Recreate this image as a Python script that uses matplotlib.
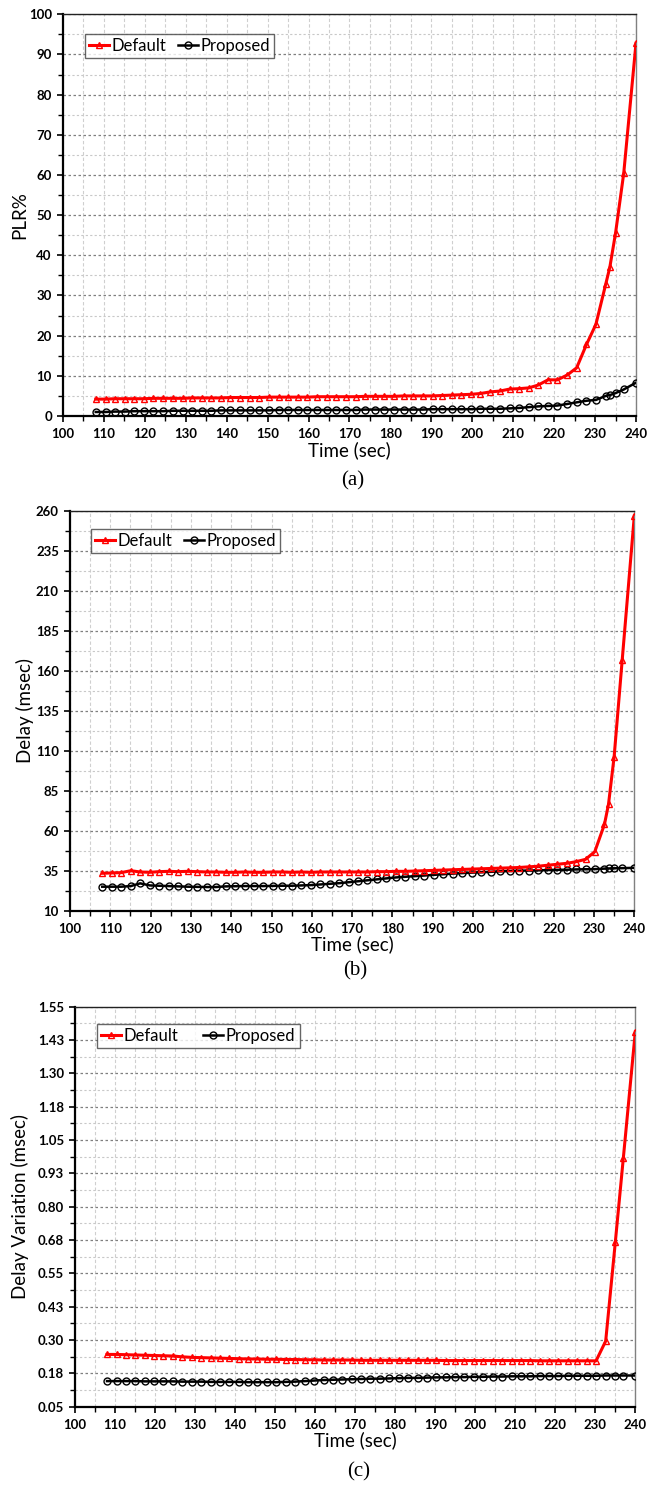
import numpy as np
import matplotlib
matplotlib.use('Agg')
import matplotlib.pyplot as plt
from matplotlib.ticker import MultipleLocator, FixedLocator, FixedFormatter

# sample times (sec)
t = [108.0, 110.4, 112.7, 115.1, 117.4, 119.8, 122.1, 124.5, 126.8, 129.2,
     131.5, 133.9, 136.2, 138.6, 140.9, 143.3, 145.6, 148.0, 150.3, 152.7,
     155.0, 157.4, 159.7, 162.1, 164.4, 166.8, 169.1, 171.5, 173.8, 176.2,
     178.5, 180.9, 183.2, 185.6, 187.9, 190.3, 192.6, 195.0, 197.3, 199.7,
     202.0, 204.4, 206.7, 209.1, 211.4, 213.8, 216.1, 218.5, 220.8, 223.2,
     225.5, 227.9, 230.2, 232.6, 233.6, 235.0, 237.0, 240.0]
# panel (c) has no sample at 233.6
t_c = t[:54] + t[55:]

plr_default = [4.2, 4.2, 4.3, 4.3, 4.3, 4.3, 4.4, 4.4, 4.4, 4.4,
               4.5, 4.5, 4.5, 4.5, 4.6, 4.6, 4.6, 4.6, 4.7, 4.7,
               4.7, 4.7, 4.7, 4.8, 4.8, 4.8, 4.8, 4.8, 4.9, 4.9,
               4.9, 4.9, 5.0, 5.0, 5.0, 5.0, 5.1, 5.2, 5.3, 5.4,
               5.6, 6.0, 6.2, 6.7, 6.8, 7.0, 7.7, 9.0, 9.0, 10.2,
               12.0, 17.8, 22.8, 32.8, 37.0, 45.5, 60.4, 92.8]
plr_proposed = [1.0, 1.0, 1.1, 1.1, 1.2, 1.2, 1.2, 1.2, 1.3, 1.3,
                1.3, 1.3, 1.3, 1.4, 1.4, 1.4, 1.4, 1.4, 1.4, 1.5,
                1.5, 1.5, 1.5, 1.5, 1.5, 1.5, 1.5, 1.5, 1.6, 1.6,
                1.6, 1.6, 1.6, 1.6, 1.6, 1.7, 1.7, 1.7, 1.7, 1.7,
                1.8, 1.8, 1.8, 1.9, 2.0, 2.2, 2.4, 2.5, 2.6, 3.0,
                3.4, 3.8, 4.0, 5.0, 5.2, 5.7, 6.6, 8.3]

delay_default = [33.4, 33.6, 33.8, 35.0, 34.2, 34.0, 34.4, 34.6, 34.4, 34.6,
                 34.4, 34.2, 34.2, 34.0, 34.0, 34.2, 34.0, 34.0, 34.2, 34.2,
                 34.0, 34.2, 34.0, 34.2, 34.2, 34.2, 34.2, 34.2, 34.2, 34.4,
                 34.4, 34.6, 34.6, 34.8, 35.0, 35.2, 35.4, 35.6, 35.8, 36.0,
                 36.2, 36.4, 36.6, 36.8, 37.0, 37.4, 37.8, 38.4, 39.0, 39.6,
                 40.6, 42.1, 46.9, 64.0, 76.5, 106.3, 166.7, 256.7]
delay_proposed = [25.0, 25.0, 25.0, 25.4, 27.1, 25.8, 25.6, 25.4, 25.2, 25.0,
                  24.9, 24.8, 24.8, 25.2, 25.3, 25.4, 25.4, 25.4, 25.5, 25.6,
                  25.6, 25.8, 26.0, 26.4, 26.8, 27.2, 27.8, 28.4, 29.0, 29.6,
                  30.2, 30.8, 31.2, 31.6, 32.0, 32.4, 32.8, 33.2, 33.5, 33.8,
                  34.0, 34.3, 34.6, 34.8, 35.0, 35.1, 35.2, 35.4, 35.5, 35.6,
                  35.8, 35.9, 36.0, 36.3, 36.4, 36.5, 36.6, 36.8]

dv_default = [0.246, 0.246, 0.245, 0.244, 0.243, 0.242, 0.241, 0.240, 0.237, 0.235,
              0.234, 0.233, 0.232, 0.231, 0.230, 0.229, 0.229, 0.228, 0.228, 0.227,
              0.227, 0.226, 0.226, 0.225, 0.225, 0.225, 0.225, 0.224, 0.224, 0.224,
              0.224, 0.224, 0.224, 0.224, 0.224, 0.224, 0.223, 0.223, 0.223, 0.223,
              0.223, 0.223, 0.223, 0.223, 0.223, 0.223, 0.222, 0.222, 0.222, 0.222,
              0.222, 0.222, 0.222, 0.296, 0.666, 0.981, 1.456]
dv_proposed = [0.146, 0.146, 0.146, 0.146, 0.145, 0.145, 0.145, 0.145, 0.144, 0.144,
               0.144, 0.143, 0.143, 0.143, 0.143, 0.142, 0.142, 0.142, 0.142, 0.143,
               0.144, 0.146, 0.148, 0.150, 0.151, 0.152, 0.153, 0.154, 0.155, 0.155,
               0.156, 0.157, 0.158, 0.158, 0.159, 0.160, 0.160, 0.161, 0.161, 0.162,
               0.162, 0.163, 0.163, 0.164, 0.164, 0.164, 0.165, 0.165, 0.165, 0.166,
               0.166, 0.166, 0.166, 0.167, 0.167, 0.167, 0.167]

plr_ticks = [0, 10, 20, 30, 40, 50, 60, 70, 80, 90, 100]
delay_ticks = [10, 35, 60, 85, 110, 135, 160, 185, 210, 235, 260]
dv_ticks = [0.05, 0.175, 0.30, 0.425, 0.55, 0.675, 0.80, 0.925, 1.05, 1.175, 1.30, 1.425, 1.55]
dv_labels = ['0.05', '0.18', '0.30', '0.43', '0.55', '0.68', '0.80', '0.93',
             '1.05', '1.18', '1.30', '1.43', '1.55']

# tick labels are bold; everything else resets weight to normal
plt.rcParams['font.family'] = ['Lato', 'DejaVu Sans']
plt.rcParams['font.weight'] = 'bold'
plt.rcParams['xtick.labelsize'] = 9.5
plt.rcParams['ytick.labelsize'] = 9.5

W, H = 657, 1489
fig = plt.figure(figsize=(W/100, H/100), dpi=100)

panels = [
    # box = (left, top, right, bottom) in pixels
    dict(box=(63, 14.3, 636, 416), xs=(t, t), ys=(plr_default, plr_proposed),
         ticks=plr_ticks, labels=None, ylabel='PLR%', cap='(a)', cap_y=481,
         yl_x=20, leg=(85, 34), colsp=0.7),
    dict(box=(70, 510.7, 634.3, 910.7), xs=(t, t), ys=(delay_default, delay_proposed),
         ticks=delay_ticks, labels=None, ylabel='Delay (msec)', cap='(b)', cap_y=971,
         yl_x=25, leg=(91, 529), colsp=0.7),
    dict(box=(75, 1006.7, 635.3, 1406.7), xs=(t_c, t_c), ys=(dv_default, dv_proposed),
         ticks=dv_ticks, labels=dv_labels, ylabel='Delay Variation (msec)', cap='(c)',
         cap_y=1472, yl_x=20, leg=(97, 1024), colsp=1.5),
]

for p in panels:
    l, tp, r, b = p['box']
    ax = fig.add_axes([l/W, 1 - b/H, (r - l)/W, (b - tp)/H])
    ax.plot(p['xs'][0], p['ys'][0], color='#ff0000', lw=2.2, marker='^', ms=5,
            mfc='none', mec='#ff0000', mew=1.0, label='Default', zorder=4)
    ax.plot(p['xs'][1], p['ys'][1], color='black', lw=1.8, marker='o', ms=5,
            mfc='none', mec='black', mew=1.0, label='Proposed', zorder=3)
    yt = p['ticks']
    ax.set_xlim(100, 240)
    ax.set_ylim(yt[0], yt[-1])
    ax.xaxis.set_major_locator(MultipleLocator(10))
    ax.xaxis.set_minor_locator(MultipleLocator(5))
    ax.yaxis.set_major_locator(FixedLocator(yt))
    half = (yt[1] - yt[0]) / 2
    ax.yaxis.set_minor_locator(FixedLocator([v + half for v in yt[:-1]]))
    if p['labels'] is not None:
        ax.yaxis.set_major_formatter(FixedFormatter(p['labels']))
    ax.grid(which='major', axis='y', color='#7f7f7f', ls=(0, (2, 2)), lw=0.9)
    ax.grid(which='minor', axis='y', color='#c8c8c8', ls=(0, (2, 2)), lw=0.8)
    ax.grid(which='both', axis='x', color='#cfcfcf', ls=(0, (3, 2)), lw=0.8)
    ax.set_axisbelow(True)
    for side in ('left', 'bottom'):
        ax.spines[side].set_linewidth(1.6)
        ax.spines[side].set_color('black')
    ax.spines['top'].set_linewidth(1.0)
    ax.spines['top'].set_color('#222222')
    ax.spines['right'].set_linewidth(1.0)
    ax.spines['right'].set_color('#808080')
    ax.tick_params(which='major', direction='out', length=4, width=1.2)
    ax.tick_params(which='minor', direction='out', length=3.5, width=1.0)
    ax.tick_params(axis='x', which='major', pad=5)
    ax.tick_params(axis='y', which='major', pad=4)
    # axis titles
    ax.set_xlabel('Time (sec)', fontsize=13.5, fontweight='normal')
    ax.xaxis.set_label_coords(0.5, -34 / (b - tp), transform=ax.transAxes)
    ax.set_ylabel(p['ylabel'], fontsize=13.5, fontweight='normal')
    ax.yaxis.set_label_coords(-(l - p['yl_x']) / (r - l), 0.5)
    ax.xaxis.label.set_va('center')
    ax.yaxis.label.set_va('center')
    lx, ly = p['leg']
    leg = ax.legend(loc='upper left', bbox_to_anchor=((lx - l)/(r - l), 1 - (ly - tp)/(b - tp)),
                    ncol=2, frameon=True, fancybox=False, handlelength=1.2,
                    handletextpad=0.15, columnspacing=p['colsp'], borderpad=0.25,
                    borderaxespad=0, prop=dict(family='Lato', size=12, weight='normal'))
    leg.get_frame().set_edgecolor('#404040')
    leg.get_frame().set_linewidth(1.0)
    fig.text((l + r) / 2 / W + 0.005, 1 - p['cap_y'] / H, p['cap'], ha='center', va='center',
             family='Liberation Serif', fontsize=15, fontweight='normal')

fig.savefig('out.png', dpi=100)
